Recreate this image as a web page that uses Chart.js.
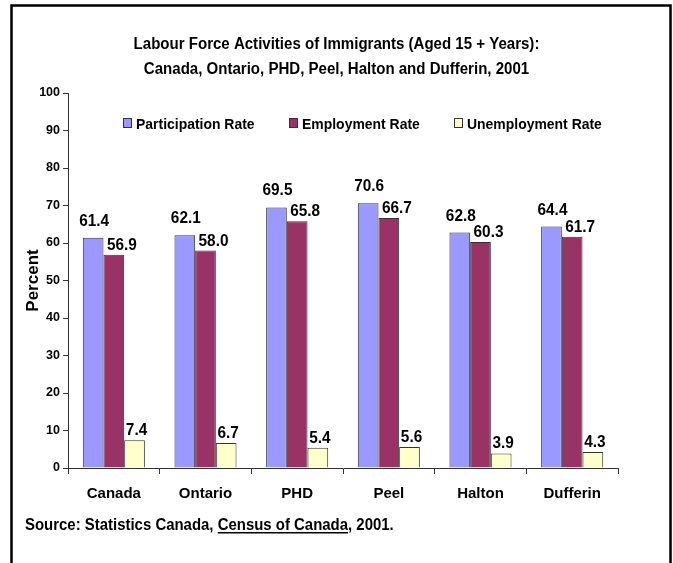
<!DOCTYPE html>
<html>
<head>
<meta charset="utf-8">
<script src="https://cdn.jsdelivr.net/npm/chart.js@4/dist/chart.umd.min.js"></script>
<style>
  html, body { margin: 0; padding: 0; background: #fff; }
  #wrap { width: 673px; height: 563px; position: relative; }
</style>
</head>
<body>
<div id="wrap"><canvas id="c" width="673" height="563"></canvas></div>
<script>
// Regions compared
const categories = ['Canada', 'Ontario', 'PHD', 'Peel', 'Halton', 'Dufferin'];
// Rates in percent, immigrants aged 15+
const participationRate = [61.4, 62.1, 69.5, 70.6, 62.8, 64.4];
const employmentRate    = [56.9, 58.0, 65.8, 66.7, 60.3, 61.7];
const unemploymentRate  = [7.4, 6.7, 5.4, 5.6, 3.9, 4.3];
const seriesNames = ['Participation Rate', 'Employment Rate', 'Unemployment Rate'];
const yTicks = [0, 10, 20, 30, 40, 50, 60, 70, 80, 90, 100];
const titleLines = [
  'Labour Force Activities of Immigrants (Aged 15 + Years):',
  'Canada, Ontario, PHD, Peel, Halton and Dufferin, 2001'
];
const sourceParts = ['Source: Statistics Canada, ', 'Census of Canada', ', 2001.'];

const FONT = '"Liberation Sans", Arial, Helvetica, sans-serif';

// draw text squeezed horizontally around its anchor point
function squeezedText(ctx, text, x, y, sx) {
  ctx.save();
  ctx.translate(x, y);
  ctx.scale(sx, 1);
  ctx.fillText(text, 0, 0);
  ctx.restore();
}

// Frame, title, legend, value labels and source note
const decorations = {
  id: 'decorations',
  beforeDraw(chart) {
    const ctx = chart.ctx;
    ctx.save();
    ctx.fillStyle = '#fff';
    ctx.fillRect(0, 0, chart.width, chart.height);
    ctx.strokeStyle = '#000';
    ctx.lineWidth = 2.5;
    ctx.beginPath();
    ctx.moveTo(11.5, chart.height + 5);
    ctx.lineTo(11.5, 5.5);
    ctx.lineTo(670.5, 5.5);
    ctx.lineTo(670.5, chart.height + 5);
    ctx.stroke();
    ctx.restore();
  },
  afterDatasetsDraw(chart) {
    const ctx = chart.ctx;
    ctx.save();
    // title
    ctx.fillStyle = '#000';
    ctx.font = 'bold 16px ' + FONT;
    ctx.textAlign = 'center';
    ctx.textBaseline = 'alphabetic';
    squeezedText(ctx, titleLines[0], chart.width / 2, 49, 0.94);
    squeezedText(ctx, titleLines[1], chart.width / 2, 74, 0.94);

    // legend inside plot area
    const legendX = [123, 289, 454];
    chart.data.datasets.forEach((ds, i) => {
      const x = legendX[i], y = 118;
      ctx.fillStyle = ds.backgroundColor;
      ctx.fillRect(x, y, 9, 10);
      ctx.strokeStyle = '#333';
      ctx.lineWidth = 1;
      ctx.strokeRect(x + 0.5, y + 0.5, 8, 9);
      ctx.fillStyle = '#000';
      ctx.font = 'bold 15px ' + FONT;
      ctx.textAlign = 'left';
      ctx.textBaseline = 'alphabetic';
      squeezedText(ctx, ds.label, x + 13, y + 10.5, 0.93);
    });

    // value labels above bars
    const dx = [1, 8, 2];
    const gap = [12, 5, 5];
    ctx.font = 'bold 16px ' + FONT;
    ctx.textAlign = 'center';
    ctx.textBaseline = 'alphabetic';
    ctx.fillStyle = '#000';
    chart.data.datasets.forEach((ds, i) => {
      const meta = chart.getDatasetMeta(i);
      meta.data.forEach((bar, j) => {
        squeezedText(ctx, ds.data[j].toFixed(1), bar.x + dx[i], bar.y - gap[i], 0.96);
      });
    });

    // source note with underlined publication name
    ctx.font = 'bold 16px ' + FONT;
    ctx.textAlign = 'left';
    const scaleX = 0.934;
    let sx = 25;
    const sy = 530;
    sourceParts.forEach((part, k) => {
      squeezedText(ctx, part, sx, sy, scaleX);
      const w = ctx.measureText(part).width * scaleX;
      if (k === 1) {
        ctx.fillRect(sx, sy + 2, w, 1.5);
      }
      sx += w;
    });
    ctx.restore();
  }
};

const ctx = document.getElementById('c').getContext('2d');
new Chart(ctx, {
  type: 'bar',
  data: {
    labels: categories,
    datasets: [
      { label: seriesNames[0], data: participationRate, backgroundColor: '#9999FF' },
      { label: seriesNames[1], data: employmentRate, backgroundColor: '#993366' },
      { label: seriesNames[2], data: unemploymentRate, backgroundColor: '#FFFFCC' }
    ].map(d => Object.assign(d, { borderColor: '#333', borderWidth: 1, borderSkipped: 'bottom' }))
  },
  options: {
    responsive: false,
    animation: false,
    devicePixelRatio: 1,
    events: [],
    layout: { padding: { left: 14, right: 55, top: 93, bottom: 55 } },
    datasets: { bar: { categoryPercentage: 0.677, barPercentage: 1.0 } },
    plugins: {
      legend: { display: false },
      title: { display: false },
      tooltip: { enabled: false }
    },
    scales: {
      x: {
        grid: { display: true, drawOnChartArea: false, drawTicks: true, tickLength: 6, color: '#333', offset: true },
        border: { display: true, color: '#333', width: 1 },
        ticks: { color: '#000', font: { family: FONT, size: 15, weight: 'bold' }, padding: 11, maxRotation: 0 },
        afterFit(scale) { scale.height = 40; }
      },
      y: {
        min: 0, max: 100,
        afterBuildTicks(scale) { scale.ticks = yTicks.map(v => ({ value: v })); },
        grid: { display: true, drawOnChartArea: false, drawTicks: true, tickLength: 5, color: '#333' },
        border: { display: true, color: '#333', width: 1 },
        ticks: { color: '#000', font: { family: FONT, size: 12.5, weight: 'bold' }, padding: 3 },
        title: { display: true, text: 'Percent', color: '#000', font: { family: FONT, size: 17, weight: 'bold' }, padding: { top: 9, bottom: 0 } },
        afterFit(scale) { scale.width = 54; }
      }
    }
  },
  plugins: [decorations]
});
</script>
</body>
</html>
